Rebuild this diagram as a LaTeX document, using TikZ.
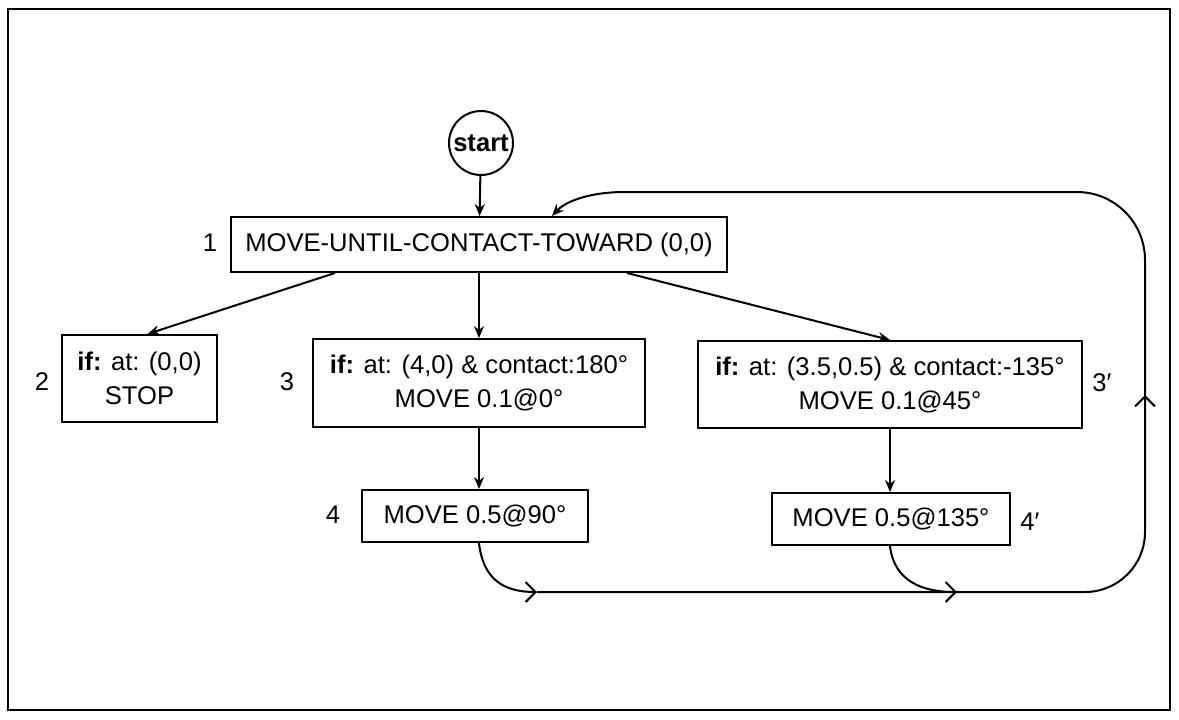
\documentclass[tikz,border=0pt]{standalone}
\usepackage{fontspec}
\setmainfont{Liberation Sans}
\usetikzlibrary{arrows.meta}

\begin{document}
\begin{tikzpicture}[x = .5pt, y = -.5pt, line width = 1pt,
    >= {Stealth[length = 6pt, width = 5pt]},
    every node/.style = {font = \fontsize{12.8}{17}\selectfont},
    box/.style = {draw, align = center, inner sep = 0pt},
    barb/.style = {-{Straight Barb[length = 5pt, width = 10pt]}}]
  \useasboundingbox (0,0) rectangle (1179,719);
  \draw [line width = 1.2pt] (8,9) rectangle (1170,710);
  % states
  \node [draw, circle, minimum size = 32pt, inner sep = 0pt,
         font = \bfseries\fontsize{12.8}{14}\selectfont] (start) at (481,143) {start};
  \node [box, minimum width = 248pt, minimum height = 27.5pt] (move1)
        at (479,244.5) {MOVE-UNTIL-CONTACT-TOWARD (0,0)};
  \node [box, minimum width = 77.5pt, minimum height = 43.5pt] (if2)
        at (139.5,378.5) {\textbf{if:} at: (0,0)\\STOP};
  \node [box, minimum width = 166pt, minimum height = 44pt] (if3)
        at (479,383) {\textbf{if:} at: (4,0) \& contact:180°\\MOVE 0.1@0°};
  \node [box, minimum width = 192pt, minimum height = 43.5pt] (if3p)
        at (890,384.5) {\textbf{if:} at: (3.5,0.5) \& contact:-135°\\MOVE 0.1@45°};
  \node [box, minimum width = 113pt, minimum height = 26pt] (move4)
        at (475,516) {MOVE 0.5@90°};
  \node [box, minimum width = 119pt, minimum height = 26pt] (move4p)
        at (891,519) {MOVE 0.5@135°};
  \foreach \n/\t/\x/\y in {1/1/210/243, 2/2/42/382, 3/3/287/382, 4/4/333/515,
                           3p/3′/1102/383, 4p/4′/1030/522}
    \node (lab\n) at (\x,\y) {\t};
  % transitions
  \draw [->] (start) -- (move1);
  \draw [->] ([xshift = -72pt]move1.south) -- ([xshift = 4pt]if2.north);
  \draw [->] (move1) -- (if3);
  \draw [->] ([xshift = 74pt]move1.south) -- (if3p.north);
  \draw [->] (if3.south) -- (if3.south |- move4.north);
  \draw [->] (if3p.south) -- (if3p.south |- move4p.north);
  \coordinate (j1) at (537,592);
  \coordinate (j2) at (957,592);
  \coordinate (top) at (625,192);
  \draw [barb] (if3.south |- move4.south) .. controls +(4,35) and +(-35,0) .. (j1);
  \draw [barb] (if3p.south |- move4p.south) .. controls +(4,35) and +(-35,0) .. (j2);
  \draw [barb, rounded corners = 30pt] (j1) -- (1145,592) -- (1145,395);
  \draw [rounded corners = 34pt] (1145,397) -- (1145,192) -- (top);
  \draw [->] (top) .. controls (588,192) and (565,202) .. ([xshift = 36.5pt]move1.north);
\end{tikzpicture}
\end{document}
